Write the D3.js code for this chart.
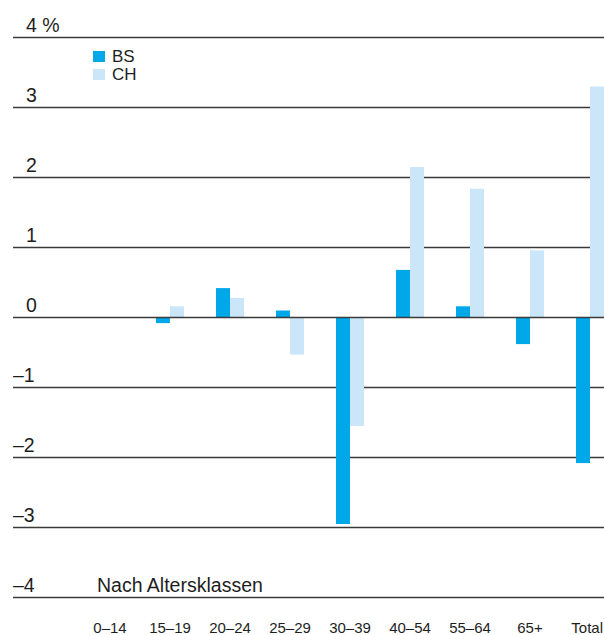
<!DOCTYPE html>
<html>
<head>
<meta charset="utf-8">
<script src="https://cdn.jsdelivr.net/npm/d3@7"></script>
<style>
  html, body { margin: 0; padding: 0; background: #fff; }
  text { font-family: "Liberation Sans", "DejaVu Sans", sans-serif; fill: #1e1e1e; }
</style>
</head>
<body>
<div id="chart"></div>
<script>
// Veränderung nach Altersklassen, BS vs CH
var categories = ['0–14', '15–19', '20–24', '25–29', '30–39', '40–54', '55–64', '65+', 'Total'];
var seriesNames = ['BS', 'CH'];
var valuesBS = [0, -0.08, 0.42, 0.10, -2.95, 0.68, 0.16, -0.38, -2.08];
var valuesCH = [0, 0.16, 0.28, -0.53, -1.55, 2.15, 1.84, 0.96, 3.30];
var yTicks = [4, 3, 2, 1, 0, -1, -2, -3, -4];
var colors = { BS: '#00a8ea', CH: '#cbe6f8' };

var width = 604, height = 635;

var svg = d3.select('#chart').append('svg')
  .attr('width', width)
  .attr('height', height);

var y = d3.scaleLinear().domain([-4, 4]).range([597.5, 37.5]);
var x = d3.scaleBand().domain(categories).range([80, 620]).padding(0);
var xs = d3.scaleBand().domain(seriesNames).range([-14, 14]).padding(0);

// gridlines
var grid = svg.append('g').attr('class', 'grid');
grid.selectAll('line').data(yTicks.filter(function(d) { return d !== 0; })).enter()
  .append('line')
  .attr('x1', 13).attr('x2', width)
  .attr('y1', function(d) { return y(d); })
  .attr('y2', function(d) { return y(d); })
  .attr('stroke', '#3a3a3a')
  .attr('stroke-width', 1.3);

// tick labels
svg.append('g').selectAll('text').data(yTicks).enter()
  .append('text')
  .attr('x', function(d) { return d < 0 ? 13 : 26; })
  .attr('y', function(d) { return y(d) - 6; })
  .style('font-size', '19.5px')
  .text(function(d) {
    if (d === 4) return '4 %';
    return d < 0 ? '–' + Math.abs(d) : String(d);
  });

// bars
var rows = categories.map(function(c, i) {
  return [{ cat: c, s: 'BS', v: valuesBS[i] }, { cat: c, s: 'CH', v: valuesCH[i] }];
});
var groups = svg.append('g').selectAll('g').data(rows).enter()
  .append('g')
  .attr('transform', function(d) { return 'translate(' + (x(d[0].cat) + x.bandwidth() / 2) + ',0)'; });

groups.selectAll('rect').data(function(d) { return d; }).enter()
  .append('rect')
  .attr('x', function(d) { return xs(d.s); })
  .attr('width', xs.bandwidth())
  .attr('y', function(d) { return y(Math.max(0, d.v)); })
  .attr('height', function(d) { return Math.abs(y(d.v) - y(0)); })
  .attr('fill', function(d) { return colors[d.s]; });

// zero line on top of bars
svg.append('line')
  .attr('x1', 13).attr('x2', width)
  .attr('y1', y(0)).attr('y2', y(0))
  .attr('stroke', '#3a3a3a')
  .attr('stroke-width', 1.3);

// category labels (last one kept inside the frame)
svg.append('g').selectAll('text').data(categories).enter()
  .append('text')
  .attr('x', function(d, i) { return i === categories.length - 1 ? 603 : x(d) + x.bandwidth() / 2; })
  .attr('y', 633)
  .attr('text-anchor', function(d, i) { return i === categories.length - 1 ? 'end' : 'middle'; })
  .style('font-size', '15px')
  .text(function(d) { return d; });

svg.append('text')
  .attr('x', 97).attr('y', y(-4) - 6)
  .style('font-size', '19.5px')
  .text('Nach Altersklassen');

// legend
var legend = svg.append('g').selectAll('g').data(seriesNames).enter()
  .append('g')
  .attr('transform', function(d, i) { return 'translate(93,' + (51 + i * 18) + ')'; });
legend.append('rect')
  .attr('width', 12).attr('height', 11)
  .attr('fill', function(d) { return colors[d]; });
legend.append('text')
  .attr('x', 19).attr('y', 11)
  .style('font-size', '17px')
  .text(function(d) { return d; });
</script>
</body>
</html>
